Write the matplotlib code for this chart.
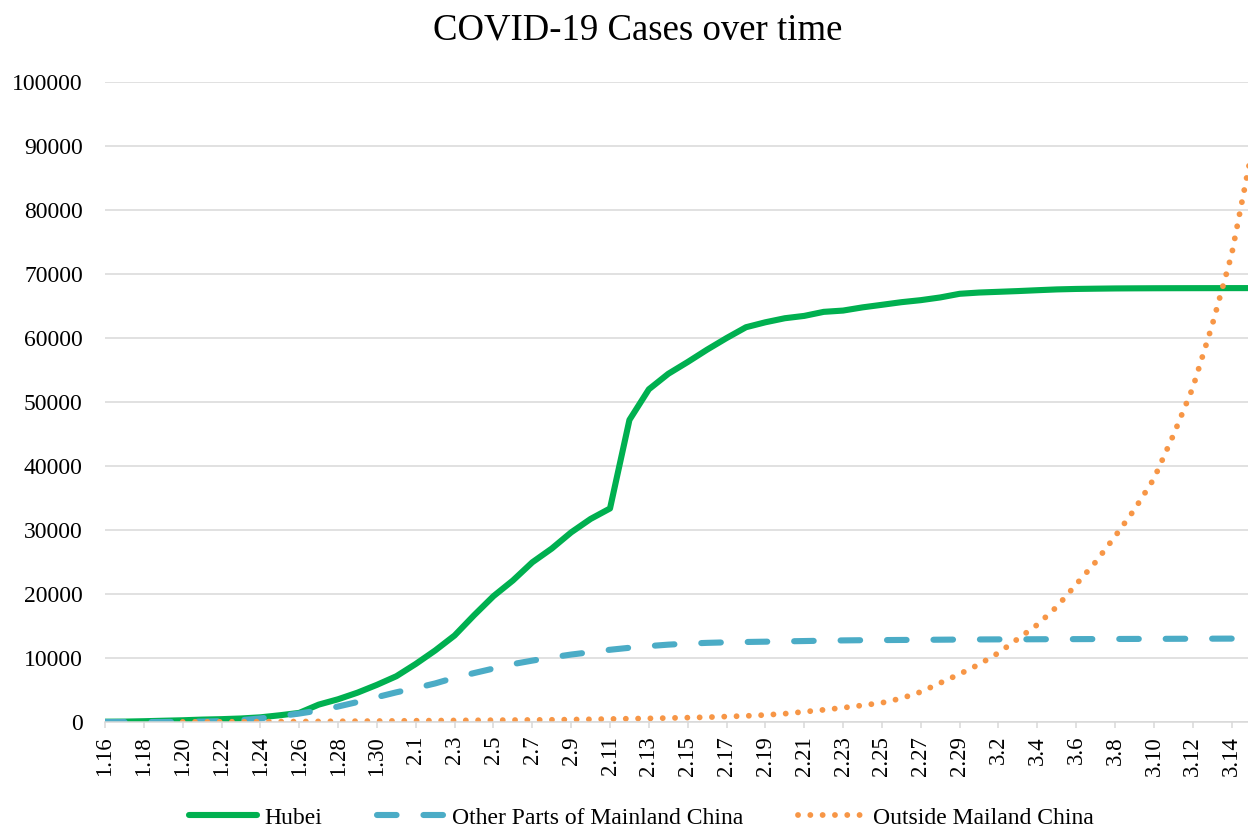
import numpy as np
import matplotlib
matplotlib.use("Agg")
import matplotlib.pyplot as plt

plt.rcParams['font.family'] = ['Liberation Serif', 'DejaVu Serif']

# categories: daily dates 1.16 .. 3.15 (2020)
dates = ([f"1.{d}" for d in range(16, 32)]
         + [f"2.{d}" for d in range(1, 30)]
         + [f"3.{d}" for d in range(1, 16)])

# cumulative cases
hubei = [45, 62, 121, 198, 270, 375, 444, 549, 729, 1052, 1423, 2714, 3554, 4586, 5806, 7153,
         9074, 11177, 13522, 16678, 19665, 22112, 24953, 27100, 29631, 31728, 33366, 47200,
         51986, 54406, 56249, 58182, 59989, 61682, 62457, 63088, 63454, 64084, 64287, 64786,
         65187, 65596, 65914, 66337, 66907,
         67103, 67217, 67332, 67466, 67592, 67666, 67707, 67743, 67760, 67773, 67781, 67786,
         67790, 67794, 67798]

other_mainland = [0, 0, 0, 0, 21, 65, 127, 281, 558, 923, 1321, 1801, 2420, 3125, 3886, 4638,
                  5306, 6028, 6916, 7646, 8353, 9049, 9593, 10098, 10540, 10910, 11287, 11598,
                  11865, 12086, 12251, 12366, 12447, 12503, 12550, 12600, 12650, 12700, 12750,
                  12780, 12800, 12820, 12840, 12860, 12880,
                  12900, 12910, 12920, 12930, 12940, 12950, 12960, 12970, 12980, 12990, 13000,
                  13010, 13020, 13030, 13040]

outside = [np.nan, np.nan, np.nan, np.nan, 10, 20, 30, 40, 50, 60, 70, 90, 110, 130, 150, 170,
           200, 220, 240, 260, 280, 300, 320, 340, 380, 420, 470, 520, 560, 620, 680, 750, 850,
           950, 1100, 1300, 1600, 1900, 2230, 2600, 3000, 3700, 4700, 6100, 7500,
           9000, 10800, 13000, 15200, 18000, 21500, 25000, 29000, 33200, 38000, 44800, 52200,
           62000, 73000, 88500]

x = np.arange(len(dates))

fig = plt.figure(figsize=(12.48, 8.27), dpi=100)
ax = fig.add_axes([105 / 1248, 1 - 722 / 827, 1146 / 1248, 640 / 827])

ax.plot(x, hubei, color='#00B050', lw=4.4, solid_capstyle='round', solid_joinstyle='round',
        label='Hubei')
ax.plot(x, other_mainland, color='#4BACC6', lw=4.4, linestyle=(0, (3.2, 4.4)),
        dash_capstyle='round', label='Other Parts of Mainland China')
ax.plot(x, outside, color='#F79646', lw=4.2, linestyle=(0, (0.01, 2.1)),
        dash_capstyle='round', label='Outside Mailand China')

ax.set_xlim(0, len(dates) - 1)
ax.set_ylim(0, 100000)
ax.set_yticks(np.arange(0, 100001, 10000))
ax.set_xticks(x[::2])
ax.set_xticklabels(dates[::2], rotation=90, fontsize=16.5)
ax.tick_params(axis='y', length=0, pad=16, labelsize=17)
ax.tick_params(axis='x', length=4, width=1.1, color='#D9D9D9', pad=6)

ax.grid(axis='y', color='#D9D9D9', lw=1.1)
ax.set_axisbelow(True)
for s in ['top', 'right', 'left']:
    ax.spines[s].set_visible(False)
ax.spines['bottom'].set_color('#D9D9D9')
ax.spines['bottom'].set_linewidth(1.1)

fig.text(0.511, 0.963, 'COVID-19 Cases over time', ha='center', va='center', fontsize=26.5)

fig.legend(loc='center', bbox_to_anchor=(0.514, 0.011), ncol=3, frameon=False,
           fontsize=17, handlelength=2.9, handletextpad=0.3, columnspacing=2.3)

fig.savefig('out.png', dpi=100)
